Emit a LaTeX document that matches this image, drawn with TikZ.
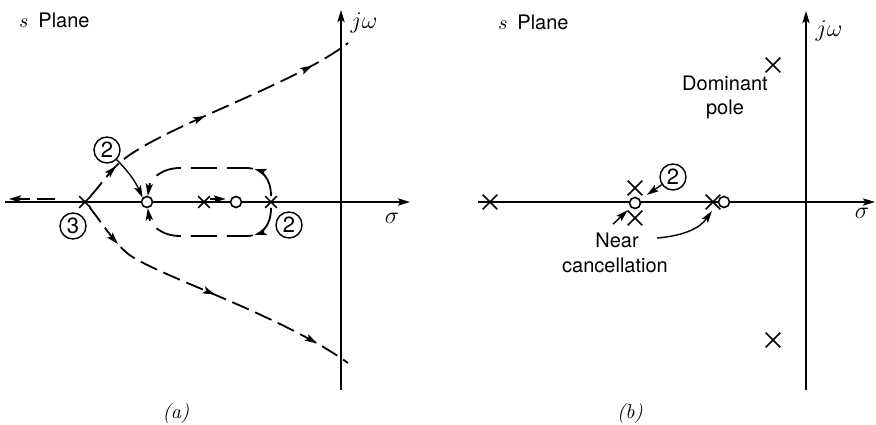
\documentclass[tikz,border=0pt]{standalone}
\usepackage{amsmath}
\usepackage{fontspec}
\setsansfont{TeX Gyre Heros}
\usetikzlibrary{arrows.meta}
\usetikzlibrary{shapes.misc}
\usetikzlibrary{decorations.markings}

\tikzset{
  axis/.style={->,line width=1pt},
  locus/.style={line width=0.9pt,dash pattern=on 9pt off 3.5pt},
  ovalpath/.style={line width=0.9pt,dash pattern=on 13pt off 5pt},
  pole/.style={cross out,draw,line width=0.8pt,minimum size=5pt,inner sep=0pt},
  bigpole/.style={pole,minimum size=6.5pt},
  zero/.style={circle,draw,fill=white,line width=0.8pt,minimum size=5.5pt,inner sep=0pt},
  mult/.style={circle,draw,line width=0.7pt,minimum size=13pt,inner sep=0pt,font=\sffamily\fontsize{11pt}{13pt}\selectfont},
  flowat/.style={postaction={decorate,decoration={markings,mark=at position #1 with {\arrow{>}}}}},
  txt/.style={font=\sffamily,align=center,inner sep=1pt},
  pointer/.style={->,line width=0.7pt},
}

\begin{document}
\begin{tikzpicture}[x=0.5pt,y=0.5pt,>={Stealth[length=6pt,width=3.6pt,inset=1.2pt]}]
    \useasboundingbox (0,0) rectangle (876,424);

    % (a) root locus
    \coordinate (aW) at (5,222);
    \coordinate (aE) at (410,222);
    \coordinate (aS) at (341,34);
    \coordinate (aN) at (341,414);
    \draw[axis] (aW) -- (aE);
    \draw[axis] (aS) -- (aN);
    \node (sigA) at (392,206) {\large$\sigma$};
    \node (jwA) at (364,401) {\large$j\omega$};
    \node[anchor=west] (titleA) at (12,404) {$s$\enspace\sffamily Plane};

    \node[pole] (p1) at (85,222) {};
    \node[pole] (p2) at (204,222) {};
    \node[pole] (p3) at (271,222) {};
    \node[zero] (z1) at (147,222) {};
    \node[zero] (z2) at (236,222) {};
    \node[mult] (m3) at (73,198) {3};
    \node[mult] (m2a) at (107,274) {2};
    \node[mult] (m2b) at (289,199) {2};

    \coordinate (ua) at (348,381);
    \coordinate (la) at (348,61);
    \coordinate (ls) at (55,225);
    \coordinate (le) at (9,225);
    \draw[locus,->] (ls) -- (le);
    \draw[locus,flowat=0.13,flowat=0.47,flowat=0.86] (p1) .. controls (100,238) and (110,254) .. (124,265)
        .. controls (170,300) and (295,340) .. (ua);
    \draw[locus,flowat=0.15,flowat=0.51,flowat=0.88] (p1) .. controls (100,204) and (112,184) .. (127,171)
        .. controls (150,151) and (280,110) .. (la);
    \draw[ovalpath,flowat=0.22,->] (p3) .. controls (271,246) and (262,256) .. (246,256) -- (180,256)
        .. controls (162,256) and (150,245) .. (z1);
    \draw[ovalpath,flowat=0.22,->] (p3) .. controls (271,198) and (262,188) .. (246,188) -- (180,188)
        .. controls (162,188) and (150,199) .. (z1);
    \draw[pointer,shorten >=2pt] ([yshift=1.5pt]p2.east) -- ([yshift=1.5pt]z2.west);
    \draw[pointer] (m2a.south east) to[bend left=10] (z1.north west);

    \node (capA) at (176,11) {\textit{(a)}};

    % (b) pole-zero map
    \coordinate (bW) at (478,222);
    \coordinate (bE) at (875,222);
    \coordinate (bS) at (806,34);
    \coordinate (bN) at (806,413);
    \draw[axis] (bW) -- (bE);
    \draw[axis] (bS) -- (bN);
    \node (sigB) at (862,211) {\large$\sigma$};
    \node (jwB) at (829,393) {\large$j\omega$};
    \node[anchor=west] (titleB) at (491,402) {$s$\enspace\sffamily Plane};

    \node[bigpole] (b1) at (490,222) {};
    \node[bigpole] (b2) at (635,236) {};
    \node[bigpole] (b3) at (635,206) {};
    \node[zero] (bz1) at (635,221) {};
    \node[bigpole] (b4) at (713,222) {};
    \node[zero] (bz2) at (724,222) {};
    \node[bigpole] (b5) at (773,359) {};
    \node[bigpole] (b6) at (773,84) {};
    \node[mult] (m2c) at (673,247) {2};

    \node[txt] (dom) at (725,327) {Dominant\\pole};
    \node[txt] (near) at (617,184) {Near};
    \node[txt] (canc) at (615,159) {cancellation};

    \draw[pointer,shorten >=4pt] (m2c) -- (bz1);
    \draw[pointer,shorten >=2pt] ([xshift=-2pt,yshift=3pt]near.north) -- (bz1.south west);
    \draw[pointer,shorten >=1pt] ([xshift=8pt,yshift=1pt]near.east) to[out=5,in=235] (b4.south);

    \node (capB) at (630,11) {\textit{(b)}};
\end{tikzpicture}
\end{document}
